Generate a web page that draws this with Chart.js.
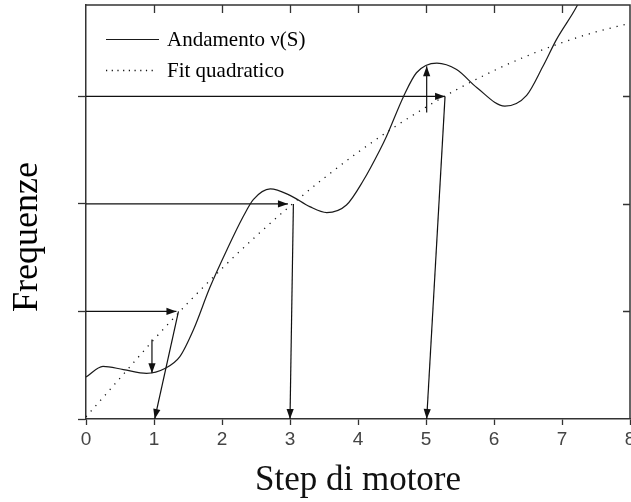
<!DOCTYPE html>
<html><head><meta charset="utf-8">
<script src="https://cdn.jsdelivr.net/npm/chart.js@4.4.0/dist/chart.umd.min.js"></script>
<style>html,body{margin:0;padding:0;background:#fff;}#wrap{width:631px;height:502px;}</style>
</head><body><div id="wrap"><canvas id="c" width="631" height="502"></canvas></div>
<script>
// Measured curve nu(S)
const curveS  = [0, 0.25, 0.55, 0.89, 1.16, 1.38, 1.58, 1.82, 2.07, 2.31, 2.46, 2.71, 3.0, 3.29, 3.54, 3.83, 4.08, 4.32, 4.42, 4.67, 4.86, 5.16, 5.45, 5.75, 6.16, 6.48, 6.72, 6.92, 7.22, 7.45];
const curveNu = [0.39, 0.49, 0.46, 0.425, 0.47, 0.58, 0.83, 1.22, 1.57, 1.88, 2.04, 2.14, 2.08, 1.975, 1.92, 1.99, 2.22, 2.50, 2.63, 3.0, 3.22, 3.31, 3.25, 3.08, 2.91, 3.01, 3.28, 3.53, 3.84, 4.15];
// Quadratic fit
const fitS  = [0, 0.5, 1, 1.5, 2, 2.5, 3, 3.5, 4, 4.5, 5, 5.5, 6, 6.5, 7, 7.5, 8];
const fitNu = [0.02, 0.38, 0.74, 1.08, 1.40, 1.70, 1.98, 2.24, 2.48, 2.70, 2.90, 3.08, 3.24, 3.38, 3.50, 3.60, 3.68];
// Axis ticks
const xTickValues = [0, 1, 2, 3, 4, 5, 6, 7, 8];
const xTickLabels = ['0', '1', '2', '3', '4', '5', '6', '7', '8'];
const yTickValues = [0, 1, 2, 3];
// Arrows (from -> to, in data units)
const arrowFromS  = [0,    1.36, 0.97, 0,    3.05, 5.01, 0,    5.28];
const arrowFromNu = [1.0,  1.0,  0.74, 2.0,  2.0,  2.85, 3.0,  3.0];
const arrowToS    = [1.33, 1.01, 0.97, 2.97, 3.0,  5.01, 5.28, 5.01];
const arrowToNu   = [1.0,  0,    0.425,2.0,  0,    3.28, 3.0,  0];

const legendLabels = ['Andamento \u03BD(S)', 'Fit quadratico'];

const datasets = [
  { label: legendLabels[0], data: curveS.map((s, i) => ({x: s, y: curveNu[i]})),
    borderColor: '#1a1a1a', borderWidth: 1.2, pointRadius: 0, cubicInterpolationMode: 'monotone', fill: false },
  { label: legendLabels[1], data: fitS.map((s, i) => ({x: s, y: fitNu[i]})),
    borderColor: '#111', borderWidth: 1.3, borderDash: [1.2, 6], pointRadius: 0, cubicInterpolationMode: 'monotone', fill: false }
];
arrowFromS.forEach((s, i) => {
  datasets.push({ label: 'arrow' + i, isArrow: true,
    data: [{x: s, y: arrowFromNu[i]}, {x: arrowToS[i], y: arrowToNu[i]}],
    borderColor: '#111', borderWidth: 1.2, pointRadius: 0, tension: 0, fill: false });
});

const extras = {
  id: 'extras',
  afterDatasetsDraw(chart) {
    const ctx = chart.ctx, a = chart.chartArea, xs = chart.scales.x, ys = chart.scales.y;
    ctx.save();
    // arrowheads
    chart.data.datasets.forEach((ds, di) => {
      if (!ds.isArrow) return;
      const pts = chart.getDatasetMeta(di).data;
      const p0 = pts[0], p1 = pts[1];
      const ang = Math.atan2(p1.y - p0.y, p1.x - p0.x);
      const L = 10, W = 3.6;
      ctx.fillStyle = '#111';
      ctx.beginPath();
      ctx.moveTo(p1.x, p1.y);
      ctx.lineTo(p1.x - L * Math.cos(ang) + W * Math.sin(ang), p1.y - L * Math.sin(ang) - W * Math.cos(ang));
      ctx.lineTo(p1.x - L * Math.cos(ang) - W * Math.sin(ang), p1.y - L * Math.sin(ang) + W * Math.cos(ang));
      ctx.closePath();
      ctx.fill();
    });
    // top and right frame
    ctx.strokeStyle = '#333';
    ctx.lineWidth = 1.5;
    ctx.beginPath();
    ctx.moveTo(a.left, a.top); ctx.lineTo(a.right, a.top); ctx.lineTo(a.right, a.bottom);
    ctx.stroke();
    // inward ticks top and right
    ctx.lineWidth = 1.3;
    ctx.beginPath();
    xTickValues.forEach(v => {
      if (v === xs.min || v === xs.max) return;
      const px = Math.round(xs.getPixelForValue(v)) + 0.5;
      ctx.moveTo(px, a.top); ctx.lineTo(px, a.top + 8);
    });
    yTickValues.forEach(v => {
      if (v === ys.min) return;
      const py = Math.round(ys.getPixelForValue(v)) + 0.5;
      ctx.moveTo(a.right, py); ctx.lineTo(a.right - 7, py);
    });
    ctx.stroke();
    // legend
    const d0 = chart.data.datasets[0], d1 = chart.data.datasets[1];
    ctx.strokeStyle = d0.borderColor; ctx.lineWidth = 1.2; ctx.setLineDash([]);
    ctx.beginPath(); ctx.moveTo(106, 39.5); ctx.lineTo(159, 39.5); ctx.stroke();
    ctx.strokeStyle = d1.borderColor; ctx.lineWidth = 1.3; ctx.setLineDash([1.2, 4.5]);
    ctx.beginPath(); ctx.moveTo(106, 70.5); ctx.lineTo(153, 70.5); ctx.stroke();
    ctx.setLineDash([]);
    ctx.fillStyle = '#000';
    ctx.font = '21px "Liberation Serif"';
    ctx.textAlign = 'left'; ctx.textBaseline = 'alphabetic';
    ctx.fillText(d0.label, 167, 46);
    ctx.fillText(d1.label, 167, 77);
    // y-axis title
    ctx.save();
    ctx.translate(37, 237);
    ctx.rotate(-Math.PI / 2);
    ctx.font = '36px "Liberation Serif"';
    ctx.textAlign = 'center';
    ctx.fillText('Frequenze', 0, 0);
    ctx.restore();
    ctx.restore();
  }
};

new Chart(document.getElementById('c'), {
  type: 'line',
  data: { datasets },
  plugins: [extras],
  options: {
    responsive: false, animation: false, devicePixelRatio: 1,
    layout: { padding: { top: 5, right: 1, left: 0, bottom: 0 } },
    plugins: { legend: { display: false }, tooltip: { enabled: false } },
    scales: {
      x: {
        type: 'linear', min: 0, max: 8,
        afterBuildTicks: s => { s.ticks = xTickValues.map(v => ({ value: v })); },
        ticks: { callback: (v, i) => xTickLabels[i], font: { family: '"Liberation Sans Narrow", "Liberation Sans"', size: 19 }, color: '#444', padding: 3, maxRotation: 0, autoSkip: false },
        grid: { drawOnChartArea: false, drawTicks: true, tickLength: 6, tickColor: '#333', tickWidth: 1.3 },
        border: { display: true, color: '#333', width: 1.5 },
        title: { display: true, text: 'Step di motore', font: { family: 'Liberation Serif', size: 35 }, color: '#111', padding: { top: 0, bottom: 0 } },
        afterFit: s => { s.height = 83; s.paddingLeft = 0; s.paddingRight = 0; }
      },
      y: {
        type: 'linear', min: 0, max: 3.85,
        afterBuildTicks: s => { s.ticks = yTickValues.map(v => ({ value: v })); },
        ticks: { display: false },
        grid: { drawOnChartArea: false, drawTicks: true, tickLength: 8, tickColor: '#333', tickWidth: 1.3 },
        border: { display: true, color: '#333', width: 1.5 },
        afterFit: s => { s.width = 86; s.paddingTop = 0; s.paddingBottom = 0; }
      }
    }
  }
});
</script></body></html>
